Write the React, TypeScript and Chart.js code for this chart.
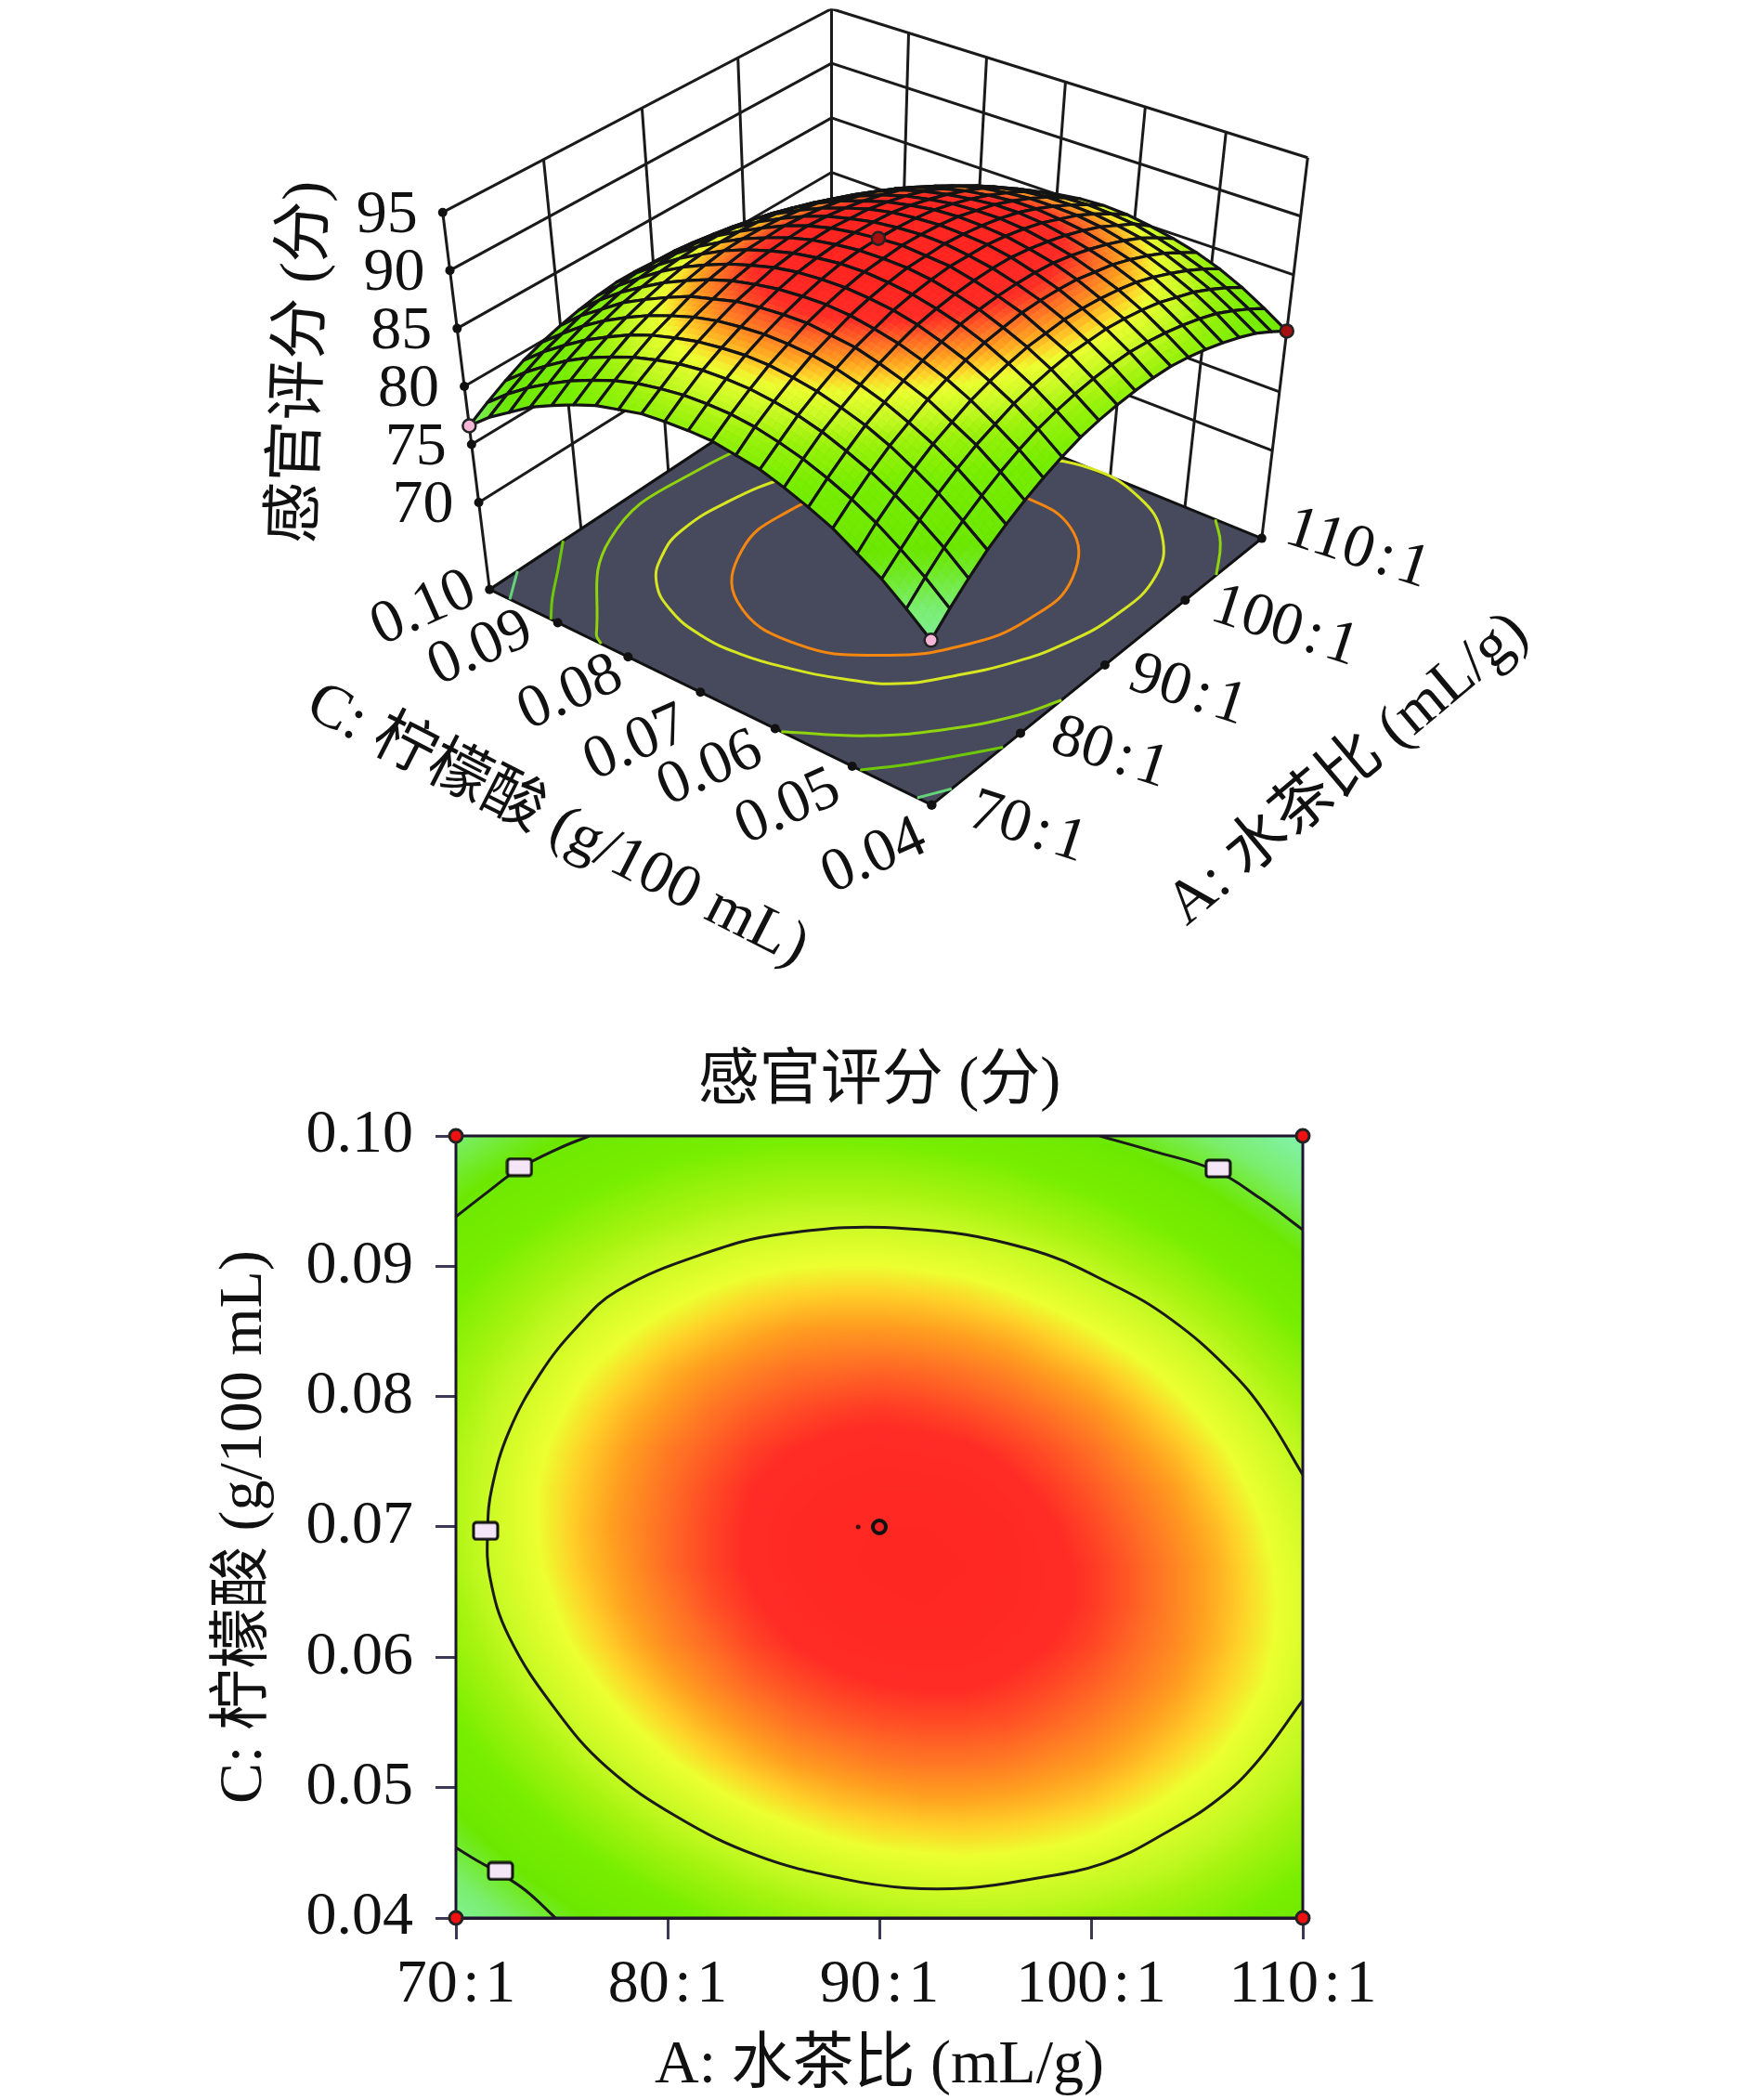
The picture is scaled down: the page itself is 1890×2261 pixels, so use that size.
import { useEffect, useRef } from "react";
import { Chart, registerables } from "chart.js";

Chart.register(...registerables);

const SERIF = '"Liberation Serif", "Noto Sans CJK SC", serif';

// grid of the response surface
const ratioGrid = [70, 72, 74, 76, 78, 80, 82, 84, 86, 88, 90, 92, 94, 96, 98, 100, 102, 104, 106, 108, 110];
const acidGrid = [0.04, 0.043, 0.046, 0.049, 0.052, 0.055, 0.058, 0.061, 0.064, 0.067, 0.07, 0.073, 0.076, 0.079, 0.082, 0.085, 0.088, 0.091, 0.094, 0.097, 0.1];

// sensory score, one row per acid level, one column per ratio
const scores = [
  [75.0, 76.4, 77.7, 78.9, 79.9, 80.8, 81.6, 82.3, 82.9, 83.3, 83.6, 83.8, 83.9, 83.9, 83.7, 83.4, 83.0, 82.5, 81.9, 81.1, 80.2],
  [76.6, 78.0, 79.3, 80.4, 81.4, 82.3, 83.1, 83.8, 84.3, 84.7, 85.0, 85.2, 85.3, 85.2, 85.0, 84.7, 84.3, 83.8, 83.1, 82.3, 81.4],
  [78.1, 79.4, 80.7, 81.8, 82.8, 83.7, 84.4, 85.1, 85.6, 86.0, 86.3, 86.4, 86.5, 86.4, 86.2, 85.9, 85.4, 84.9, 84.2, 83.4, 82.5],
  [79.3, 80.7, 81.9, 83.0, 84.0, 84.8, 85.6, 86.2, 86.7, 87.1, 87.3, 87.5, 87.5, 87.4, 87.2, 86.9, 86.4, 85.8, 85.1, 84.3, 83.4],
  [80.5, 81.8, 83.0, 84.1, 85.0, 85.9, 86.6, 87.2, 87.7, 88.0, 88.3, 88.4, 88.4, 88.3, 88.0, 87.7, 87.2, 86.6, 85.9, 85.0, 84.1],
  [81.4, 82.7, 83.9, 85.0, 85.9, 86.7, 87.4, 88.0, 88.5, 88.8, 89.0, 89.1, 89.1, 89.0, 88.7, 88.3, 87.8, 87.2, 86.5, 85.6, 84.6],
  [82.2, 83.5, 84.7, 85.7, 86.6, 87.4, 88.1, 88.7, 89.1, 89.4, 89.6, 89.7, 89.7, 89.5, 89.2, 88.8, 88.3, 87.7, 86.9, 86.1, 85.0],
  [82.9, 84.1, 85.3, 86.3, 87.2, 88.0, 88.6, 89.2, 89.6, 89.9, 90.1, 90.1, 90.1, 89.9, 89.6, 89.2, 88.6, 88.0, 87.2, 86.3, 85.3],
  [83.3, 84.6, 85.7, 86.7, 87.6, 88.3, 89.0, 89.5, 89.9, 90.2, 90.3, 90.4, 90.3, 90.1, 89.8, 89.4, 88.8, 88.1, 87.3, 86.4, 85.4],
  [83.7, 84.9, 86.0, 87.0, 87.8, 88.6, 89.2, 89.7, 90.1, 90.3, 90.5, 90.5, 90.4, 90.2, 89.8, 89.4, 88.8, 88.1, 87.3, 86.3, 85.3],
  [83.8, 85.0, 86.1, 87.1, 87.9, 88.6, 89.2, 89.7, 90.1, 90.3, 90.4, 90.4, 90.3, 90.1, 89.7, 89.2, 88.6, 87.9, 87.1, 86.1, 85.0],
  [83.8, 85.0, 86.1, 87.0, 87.8, 88.5, 89.1, 89.6, 89.9, 90.1, 90.2, 90.2, 90.1, 89.8, 89.4, 88.9, 88.3, 87.6, 86.7, 85.7, 84.6],
  [83.7, 84.8, 85.9, 86.8, 87.6, 88.3, 88.8, 89.3, 89.6, 89.8, 89.9, 89.8, 89.7, 89.4, 89.0, 88.5, 87.8, 87.1, 86.2, 85.2, 84.1],
  [83.3, 84.5, 85.5, 86.4, 87.2, 87.8, 88.4, 88.8, 89.1, 89.3, 89.4, 89.3, 89.1, 88.8, 88.4, 87.9, 87.2, 86.4, 85.5, 84.5, 83.4],
  [82.9, 84.0, 85.0, 85.9, 86.6, 87.3, 87.8, 88.2, 88.5, 88.6, 88.7, 88.6, 88.4, 88.1, 87.6, 87.1, 86.4, 85.6, 84.7, 83.6, 82.5],
  [82.2, 83.3, 84.3, 85.2, 85.9, 86.5, 87.0, 87.4, 87.7, 87.8, 87.8, 87.7, 87.5, 87.2, 86.7, 86.1, 85.4, 84.6, 83.7, 82.6, 81.4],
  [81.4, 82.5, 83.5, 84.3, 85.0, 85.6, 86.1, 86.5, 86.7, 86.8, 86.8, 86.7, 86.5, 86.1, 85.6, 85.0, 84.3, 83.5, 82.5, 81.5, 80.2],
  [80.5, 81.5, 82.5, 83.3, 84.0, 84.6, 85.0, 85.4, 85.6, 85.7, 85.7, 85.5, 85.3, 84.9, 84.4, 83.8, 83.0, 82.2, 81.2, 80.1, 78.9],
  [79.3, 80.4, 81.3, 82.1, 82.8, 83.3, 83.8, 84.1, 84.3, 84.4, 84.3, 84.2, 83.9, 83.5, 83.0, 82.4, 81.6, 80.7, 79.7, 78.6, 77.4],
  [78.1, 79.1, 80.0, 80.8, 81.4, 82.0, 82.4, 82.7, 82.9, 82.9, 82.9, 82.7, 82.4, 82.0, 81.4, 80.8, 80.0, 79.1, 78.1, 77.0, 75.7],
  [76.6, 77.6, 78.5, 79.3, 79.9, 80.4, 80.8, 81.1, 81.3, 81.3, 81.2, 81.0, 80.7, 80.3, 79.7, 79.0, 78.2, 77.3, 76.3, 75.1, 73.8],
];

const ratioTicks = [70, 80, 90, 100, 110];
const acidTicks = [0.04, 0.05, 0.06, 0.07, 0.08, 0.09, 0.1];
const scoreTicks = [70, 75, 80, 85, 90, 95];

// contour lines, [ratio, acid]
const contourMain = [[110, 0.074], [108.2, 0.0788], [106.5, 0.0821], [103.8, 0.0859], [101, 0.0886], [96.9, 0.0914], [91.2, 0.0929], [85.5, 0.0925], [81.6, 0.0909], [77.6, 0.0881], [75.7, 0.0853], [74, 0.0818], [72.5, 0.0773], [71.7, 0.073], [71.5, 0.0699], [71.6, 0.0662], [72.5, 0.0616], [74.7, 0.056], [77.1, 0.0516], [80.4, 0.0478], [84.2, 0.0448], [88.3, 0.043], [91.3, 0.0423], [94.2, 0.0423], [96.9, 0.0429], [100.6, 0.0442], [103.7, 0.0467], [106, 0.0491], [107.8, 0.0519], [110, 0.0567]];
const contourTopLeft = [[70, 0.0938], [71.5, 0.0957], [73, 0.0975], [74.8, 0.099], [76.3, 0.1]];
const contourTopRight = [[100.4, 0.1], [103, 0.0988], [105.8, 0.0974], [108, 0.0952], [110, 0.0928]];
const contourBottomLeft = [[70, 0.0454], [71, 0.0444], [72.1, 0.0434], [73.3, 0.0421], [74.7, 0.04]];

// contours on the floor of the 3D box
const floorOrange = [[104, 0.0675], [101.2, 0.0761], [96.7, 0.0815], [91.3, 0.0841], [85.3, 0.0833], [80, 0.0774], [78.6, 0.0675], [81.4, 0.059], [85.9, 0.0535], [91.3, 0.051], [97.3, 0.0518], [102.6, 0.0577], [104, 0.0675]];
const floorYellow = [[107.9, 0.0709], [104.3, 0.0787], [98.9, 0.0854], [95, 0.0885], [89.7, 0.0906], [84.5, 0.091], [81.1, 0.0895], [78.2, 0.0866], [76.2, 0.082], [75.2, 0.0765], [75.2, 0.071], [76, 0.0655], [77.4, 0.0598], [79.3, 0.0549], [82.6, 0.051], [86.2, 0.0478], [90, 0.0456], [95.5, 0.0442], [101.2, 0.045], [105.8, 0.0488], [109, 0.0551], [110, 0.063], [107.9, 0.0709]];
const floorLimeTop = [[70, 0.0838], [70.7, 0.0854], [80.3, 0.0961], [91.3, 0.0975], [101.1, 0.093], [109.3, 0.0831], [110, 0.082]];
const floorLimeLow = [[70, 0.0592], [73.3, 0.0519], [77.2, 0.0463], [81.5, 0.042], [84.8, 0.04]];
const floorLimeRight = [[104, 0.04], [107.6, 0.043], [110, 0.046]];
const floorGreenLow = [[70, 0.049], [72.5, 0.0458], [75, 0.0431], [78, 0.04]];
const floorGreenTop = [[70, 0.091], [72, 0.0935], [75, 0.0967], [78, 0.1]];
const floorGreenBack = [[97.4, 0.1], [104, 0.0965], [110, 0.0888]];
const floorPaleLeft = [[70, 0.097], [71.5, 0.0985], [73, 0.1]];
const floorPaleFront = [[70, 0.0418], [72.2, 0.04]];

// design points
const cornerPoints = [[70, 0.1], [110, 0.1], [70, 0.04], [110, 0.04]];
const labelPoints = [[73, 0.0976], [106, 0.0975], [71.4, 0.0697], [72.1, 0.0436]];
const surfacePink = [[70, 0.1, 76.6], [70, 0.04, 75.0]];
const surfaceRed = [[110, 0.04, 80.2], [90, 0.07, 90.4]];

const colorStops: [number, number[]][] = [
  [74, [130, 242, 170]],
  [76.6, [122, 238, 110]],
  [79, [108, 232, 0]],
  [81.5, [120, 238, 0]],
  [83.5, [168, 244, 16]],
  [84.3, [192, 248, 32]],
  [86, [236, 255, 48]],
  [86.8, [255, 208, 40]],
  [87.6, [255, 160, 32]],
  [88.6, [255, 106, 37]],
  [89.6, [255, 44, 37]],
  [91, [255, 36, 32]],
];

const colorAt = (z: number) => {
  if (z <= colorStops[0][0]) return colorStops[0][1];
  for (let k = 1; k < colorStops.length; k++) {
    if (z <= colorStops[k][0]) {
      const [z0, c0] = colorStops[k - 1];
      const [z1, c1] = colorStops[k];
      const t = (z - z0) / (z1 - z0);
      return c0.map((c, n) => c + (c1[n] - c) * t);
    }
  }
  return colorStops[colorStops.length - 1][1];
};

// the 3D view uses a steeper ramp than the flat map
const surfaceColorAt = (z: number) => {
  if (z >= 84) return colorAt(87 + (z - 87) * 1.4);
  if (z > 78) return colorAt(z - ((z - 78) / 6) * 1.2);
  return colorAt(z);
};

// bilinear lookup in the table, grid index units
const scoreAtIndex = (fi: number, fj: number) => {
  const i = Math.min(Math.floor(fi), 19);
  const j = Math.min(Math.floor(fj), 19);
  const a = fi - i;
  const b = fj - j;
  return (
    scores[j][i] * (1 - a) * (1 - b) +
    scores[j][i + 1] * a * (1 - b) +
    scores[j + 1][i] * (1 - a) * b +
    scores[j + 1][i + 1] * a * b
  );
};

// 3D box: corners of floor and top on screen, order front, right, back, left
const FLOOR = [[1004, 872], [1363, 580], [895, 388], [523, 636]];
const CEILING = [[1002, 403], [1413, 163], [895, 0], [472, 223]];
const Z_FLOOR = 62.5;
const Z_TOP = 95;

// small hand nudges of the slanted tick labels, in pixels
const acidLabelShift = [[0, 10], [-6, 3], [-6, 6], [-4, 22], [4, 10], [-16, 3], [-3, 0]];
const ratioLabelShift = [[0, 0], [-7, -3], [-14, 3], [4, 4], [0, -13]];

const quadMap = (q: number[][]) => {
  const [[x0, y0], [x1, y1], [x2, y2], [x3, y3]] = q;
  const dx1 = x1 - x2, dx2 = x3 - x2, sx = x0 - x1 + x2 - x3;
  const dy1 = y1 - y2, dy2 = y3 - y2, sy = y0 - y1 + y2 - y3;
  const det = dx1 * dy2 - dx2 * dy1;
  const g = (sx * dy2 - dx2 * sy) / det;
  const h = (dx1 * sy - sx * dy1) / det;
  const a = x1 - x0 + g * x1, b = x3 - x0 + h * x3;
  const d = y1 - y0 + g * y1, e = y3 - y0 + h * y3;
  return (u: number, v: number) => {
    const w = g * u + h * v + 1;
    return [(a * u + b * v + x0) / w, (d * u + e * v + y0) / w];
  };
};
const floorMap = quadMap(FLOOR);
const ceilingMap = quadMap(CEILING);

const project = (ratio: number, acid: number, z: number) => {
  const u = (ratio - 70) / 40;
  const v = (acid - 0.04) / 0.06;
  const t = (z - Z_FLOOR) / (Z_TOP - Z_FLOOR);
  const f = floorMap(u, v);
  const c = ceilingMap(u, v);
  return { x: f[0] + (c[0] - f[0]) * t, y: f[1] + (c[1] - f[1]) * t };
};

const lineSet = (pts: { x: number; y: number }[], color: string, width: number, extra = {}) => ({
  data: pts,
  showLine: true,
  borderColor: color,
  borderWidth: width,
  pointRadius: 0,
  ...extra,
});

const onFloor = (pts: number[][]) => pts.map(([a, c]) => project(a, c, Z_FLOOR));

const drawText = (ctx: any, text: string, x: number, y: number, deg: number, size: number) => {
  ctx.save();
  ctx.translate(x, y);
  ctx.rotate((deg * Math.PI) / 180);
  ctx.font = `${size}px ${SERIF}`;
  ctx.fillStyle = "#111";
  ctx.textAlign = "center";
  ctx.textBaseline = "middle";
  ctx.fillText(text, 0, 0);
  ctx.restore();
};

const surfacePlugin = {
  id: "surface",
  beforeDatasetDraw(chart: any, args: any) {
    if (chart.data.datasets[args.index].label !== "marks") return;
    const { ctx, scales } = chart;
    const toPx = (fi: number, fj: number) => {
      const a = 70 + fi * 2;
      const c = 0.04 + fj * 0.003;
      const p = project(a, c, scoreAtIndex(fi, fj));
      return [scales.x.getPixelForValue(p.x), scales.y.getPixelForValue(p.y)];
    };
    const n = 4;
    ctx.save();
    ctx.lineJoin = "round";
    for (let j = acidGrid.length - 2; j >= 0; j--) {
      for (let i = ratioGrid.length - 2; i >= 0; i--) {
        for (let s = n - 1; s >= 0; s--) {
          for (let r = n - 1; r >= 0; r--) {
            const fi = i + r / n;
            const fj = j + s / n;
            const d = 1 / n;
            const pts = [toPx(fi, fj), toPx(fi + d, fj), toPx(fi + d, fj + d), toPx(fi, fj + d)];
            const col = surfaceColorAt(scoreAtIndex(fi + d / 2, fj + d / 2));
            const css = `rgb(${col[0]},${col[1]},${col[2]})`;
            ctx.fillStyle = css;
            ctx.strokeStyle = css;
            ctx.lineWidth = 0.8;
            ctx.beginPath();
            pts.forEach((p, k) => (k ? ctx.lineTo(p[0], p[1]) : ctx.moveTo(p[0], p[1])));
            ctx.closePath();
            ctx.fill();
            ctx.stroke();
          }
        }
        const box = [toPx(i, j), toPx(i + 1, j), toPx(i + 1, j + 1), toPx(i, j + 1)];
        ctx.strokeStyle = "#141414";
        ctx.lineWidth = 3.2;
        ctx.beginPath();
        box.forEach((p, k) => (k ? ctx.lineTo(p[0], p[1]) : ctx.moveTo(p[0], p[1])));
        ctx.closePath();
        ctx.stroke();
      }
    }
    ctx.restore();
  },
  afterDraw(chart: any) {
    const { ctx, scales } = chart;
    const px = (p: { x: number; y: number }) => [scales.x.getPixelForValue(p.x), scales.y.getPixelForValue(p.y)];
    acidTicks.forEach((c, k) => {
      const [x, y] = px(project(70, c, Z_FLOOR));
      const f = k / 6;
      drawText(ctx, c.toFixed(2), x - 62 - 6 * f + acidLabelShift[k][0], y + 46 - 25 * f + acidLabelShift[k][1], -24, 66);
    });
    ratioTicks.forEach((a, k) => {
      const [x, y] = px(project(a, 0.04, Z_FLOOR));
      drawText(ctx, `${a}\u200a:\u200a1`, x + 103 + ratioLabelShift[k][0], y + 25 + ratioLabelShift[k][1], 18, 66);
    });
    scoreTicks.forEach((z) => {
      const [x, y] = px(project(70, 0.1, z));
      drawText(ctx, String(z), x - 60, y + 4, 0, 66);
    });
    drawText(ctx, "感官评分 (分)", 326, 390, -88, 66);
    drawText(ctx, "C: 柠檬酸 (g/100 mL)", 600, 889, 27, 66);
    drawText(ctx, "A: 水茶比 (mL/g)", 1452, 829, -40, 66);
  },
};

const heatmapPlugin = {
  id: "heatmap",
  beforeDatasetsDraw(chart: any) {
    const { ctx, chartArea, scales } = chart;
    const w = Math.round(chartArea.right - chartArea.left);
    const h = Math.round(chartArea.bottom - chartArea.top);
    const img = ctx.createImageData(w, h);
    for (let py = 0; py < h; py++) {
      const c = scales.y.getValueForPixel(chartArea.top + py);
      const fj = Math.max(0, Math.min(20, (c - 0.04) / 0.003));
      for (let px = 0; px < w; px++) {
        const a = scales.x.getValueForPixel(chartArea.left + px);
        const fi = Math.max(0, Math.min(20, (a - 70) / 2));
        const col = colorAt(scoreAtIndex(fi, fj));
        const o = (py * w + px) * 4;
        img.data[o] = col[0];
        img.data[o + 1] = col[1];
        img.data[o + 2] = col[2];
        img.data[o + 3] = 255;
      }
    }
    ctx.putImageData(img, Math.round(chartArea.left), Math.round(chartArea.top));
    ctx.save();
    ctx.strokeStyle = "#1c1430";
    ctx.lineWidth = 3;
    ctx.strokeRect(chartArea.left, chartArea.top, w, h);
    ctx.restore();
  },
};

const labelBox = () => {
  const c = document.createElement("canvas");
  c.width = 30;
  c.height = 22;
  const g = c.getContext("2d");
  if (g) {
    g.fillStyle = "#f4e6f6";
    g.strokeStyle = "#111";
    g.lineWidth = 3;
    g.beginPath();
    g.roundRect(2, 2, 26, 18, 3);
    g.fill();
    g.stroke();
  }
  return c;
};

const App = () => {
  const surfaceRef = useRef<HTMLCanvasElement>(null);
  const contourRef = useRef<HTMLCanvasElement>(null);

  useEffect(() => {
    document.body.style.margin = "0";
    document.body.style.overflow = "hidden";
    if (!surfaceRef.current || !contourRef.current) return;

    const wall: any[] = [];
    const black = "#1a1a1a";
    ratioTicks.forEach((a) => {
      wall.push(lineSet([project(a, 0.1, Z_FLOOR), project(a, 0.1, Z_TOP)], black, 3));
    });
    acidTicks.forEach((c) => {
      wall.push(lineSet([project(110, c, Z_FLOOR), project(110, c, Z_TOP)], black, 3));
    });
    scoreTicks.forEach((z) => {
      wall.push(lineSet([project(70, 0.1, z), project(110, 0.1, z), project(110, 0.04, z)], black, 3));
    });

    const floorEdge = [
      project(70, 0.04, Z_FLOOR),
      project(110, 0.04, Z_FLOOR),
      project(110, 0.1, Z_FLOOR),
      project(70, 0.1, Z_FLOOR),
      project(70, 0.04, Z_FLOOR),
    ];
    const curved = { tension: 0.45 };

    const tickDots = [
      ...acidTicks.map((c) => project(70, c, Z_FLOOR)),
      ...ratioTicks.map((a) => project(a, 0.04, Z_FLOOR)),
      ...scoreTicks.map((z) => project(70, 0.1, z)),
    ];

    const toXY = (pts: number[][]) => pts.map(([a, c, z]) => project(a, c, z));

    const surfaceChart = new Chart(surfaceRef.current, {
      type: "scatter",
      plugins: [surfacePlugin],
      data: {
        datasets: [
          {
            data: toXY(surfacePink),
            pointRadius: 7,
            pointBackgroundColor: "#f6b6d8",
            pointBorderColor: "#222",
            pointBorderWidth: 2.5,
          },
          {
            label: "marks",
            data: toXY(surfaceRed),
            pointRadius: 7,
            pointBackgroundColor: "#a50f10",
            pointBorderColor: "#222",
            pointBorderWidth: 2.5,
          },
          { data: tickDots, pointRadius: 5, pointBackgroundColor: "#111", pointBorderWidth: 0 },
          lineSet(onFloor(floorOrange), "#f5860f", 3, curved),
          lineSet(onFloor(floorYellow), "#d6e620", 3, curved),
          lineSet(onFloor(floorLimeTop), "#8fd40c", 3, curved),
          lineSet(onFloor(floorLimeLow), "#8fd40c", 3, curved),
          lineSet(onFloor(floorLimeRight), "#8fd40c", 3, curved),
          lineSet(onFloor(floorGreenLow), "#6ec808", 3, curved),
          lineSet(onFloor(floorGreenTop), "#6ec808", 3, curved),
          lineSet(onFloor(floorGreenBack), "#6ec808", 3, curved),
          lineSet(onFloor(floorPaleLeft), "#66d27a", 3, curved),
          lineSet(onFloor(floorPaleFront), "#66d27a", 3, curved),
          lineSet(floorEdge, "#111", 3, { fill: "shape", backgroundColor: "#474a5c" }),
          ...wall,
        ],
      } as any,
      options: {
        animation: false,
        responsive: false,
        devicePixelRatio: 1,
        layout: { padding: 0 },
        plugins: { legend: { display: false }, tooltip: { enabled: false } },
        scales: {
          x: { type: "linear", display: false, min: 0, max: 1890 },
          y: { type: "linear", display: false, min: 0, max: 1115, reverse: true },
        },
      } as any,
    });

    const pointsOf = (pts: number[][]) => pts.map(([x, y]) => ({ x, y }));
    const tickFont = { family: SERIF, size: 66 };

    const contourChart = new Chart(contourRef.current, {
      type: "scatter",
      plugins: [heatmapPlugin],
      data: {
        datasets: [
          {
            data: pointsOf(cornerPoints),
            pointRadius: 7,
            pointBackgroundColor: "#ee1111",
            pointBorderColor: "#222",
            pointBorderWidth: 3,
            clip: false,
          },
          {
            data: [{ x: 90, y: 0.07 }],
            pointRadius: 7,
            pointBackgroundColor: "#ee2222",
            pointBorderColor: "#111",
            pointBorderWidth: 4,
          },
          { data: [{ x: 89, y: 0.07 }], pointRadius: 2.5, pointBackgroundColor: "#441111", pointBorderWidth: 0 },
          { data: pointsOf(labelPoints), pointStyle: labelBox() },
          lineSet(pointsOf(contourMain), "#1a1a1a", 3, { tension: 0.4 }),
          lineSet(pointsOf(contourTopLeft), "#1a1a1a", 3, { tension: 0.4 }),
          lineSet(pointsOf(contourTopRight), "#1a1a1a", 3, { tension: 0.4 }),
          lineSet(pointsOf(contourBottomLeft), "#1a1a1a", 3, { tension: 0.4 }),
        ],
      } as any,
      options: {
        animation: false,
        responsive: false,
        devicePixelRatio: 1,
        layout: { padding: { left: 231, right: 487, top: 0, bottom: 3 } },
        plugins: {
          legend: { display: false },
          tooltip: { enabled: false },
          title: {
            display: true,
            text: "感官评分 (分)",
            fullSize: false,
            color: "#111",
            font: { family: SERIF, size: 66, weight: "normal", lineHeight: 1 },
            padding: { top: 18, bottom: 24 },
          },
        },
        scales: {
          x: {
            type: "linear",
            min: 70,
            max: 110,
            afterFit: (s: any) => {
              s.height = 193;
            },
            afterBuildTicks: (s: any) => {
              s.ticks = ratioTicks.map((value) => ({ value }));
            },
            ticks: {
              color: "#111",
              font: tickFont,
              padding: 10,
              maxRotation: 0,
              callback: (v: any) => `${v}\u200a:\u200a1`,
            },
            grid: { drawOnChartArea: false, tickLength: 23, tickColor: "#3a3a55", tickWidth: 3 },
            border: { color: "#1c1430", width: 3 },
            title: {
              display: true,
              text: "A: 水茶比 (mL/g)",
              color: "#111",
              font: { family: SERIF, size: 66, lineHeight: 1 },
              padding: 0,
            },
          },
          y: {
            type: "linear",
            min: 0.04,
            max: 0.1,
            afterFit: (s: any) => {
              s.width = 260;
            },
            afterBuildTicks: (s: any) => {
              s.ticks = acidTicks.map((value) => ({ value }));
            },
            ticks: {
              color: "#111",
              font: tickFont,
              padding: 24,
              callback: (v: any) => Number(v).toFixed(2),
            },
            grid: { drawOnChartArea: false, tickLength: 22, tickColor: "#3a3a55", tickWidth: 3 },
            border: { color: "#1c1430", width: 3 },
            title: {
              display: true,
              text: "C: 柠檬酸 (g/100 mL)",
              color: "#111",
              font: { family: SERIF, size: 66, lineHeight: 1 },
              padding: 0,
            },
          },
        },
      } as any,
    });

    return () => {
      surfaceChart.destroy();
      contourChart.destroy();
    };
  }, []);

  return (
    <div style={{ position: "absolute", left: 0, top: 0, width: 1890, height: 2261, overflow: "hidden", background: "#fff" }}>
      <canvas ref={surfaceRef} width={1890} height={1115} style={{ position: "absolute", left: 0, top: 0 }} />
      <canvas ref={contourRef} width={1890} height={1146} style={{ position: "absolute", left: 0, top: 1115 }} />
    </div>
  );
};

export default App;
